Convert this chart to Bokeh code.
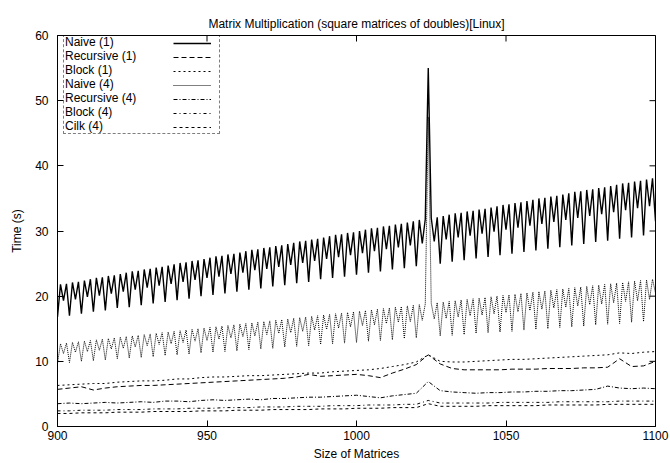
import math
from bokeh.plotting import figure
from bokeh.models import Legend, LegendItem, FixedTicker, Range1d, LinearAxis
from bokeh.embed import file_html
from bokeh.resources import INLINE

# ---------------- data ----------------
sizes = list(range(900, 1101))          # every matrix size 900..1100
coarse_sizes = list(range(900, 1101, 4))  # sampled sizes for the smooth series

x_ticks = [900, 950, 1000, 1050, 1100]
y_ticks = [0, 10, 20, 30, 40, 50, 60]

naive1 = [
    16.8, 21.8, 19.3, 21.9, 17.0, 22.1, 19.5, 22.2, 17.3, 22.4, 19.9, 22.6,
    17.6, 22.8, 20.1, 22.9, 17.8, 23.1, 20.4, 23.2, 18.2, 23.4, 20.7, 23.6,
    18.3, 23.8, 21.0, 23.9, 18.6, 24.1, 21.3, 24.2, 18.9, 24.4, 21.6, 24.5,
    19.1, 24.7, 21.9, 24.9, 19.4, 25.1, 22.2, 25.2, 19.6, 25.4, 22.5, 25.5,
    20.0, 25.7, 22.8, 25.9, 20.2, 26.1, 23.0, 26.2, 20.4, 26.4, 23.4, 26.5,
    20.7, 26.7, 23.6, 26.9, 21.0, 27.1, 24.0, 27.2, 21.2, 27.4, 24.2, 27.5,
    21.5, 27.7, 24.5, 27.8, 21.7, 28.0, 24.8, 28.2, 22.0, 28.4, 25.1, 28.5,
    22.2, 28.7, 25.4, 28.8, 22.6, 29.0, 25.7, 29.2, 22.8, 29.4, 26.0, 29.5,
    23.0, 29.7, 26.3, 29.8, 23.3, 30.0, 26.6, 30.2, 23.6, 30.4, 26.9, 30.5,
    23.8, 30.7, 27.2, 30.8, 24.1, 31.0, 27.5, 31.1, 24.3, 31.3, 27.8, 31.5,
    24.6, 31.7, 28.1, 31.8, 55.0, 32.0, 28.4, 32.1, 25.0, 32.3, 28.7, 32.5,
    25.3, 32.7, 29.0, 32.8, 25.5, 33.0, 29.3, 33.1, 25.8, 33.3, 29.6, 33.4,
    26.0, 33.6, 29.9, 33.8, 26.3, 34.0, 30.2, 34.1, 26.5, 34.3, 30.5, 34.4,
    26.8, 34.6, 30.8, 34.8, 27.0, 35.0, 31.1, 35.1, 27.3, 35.3, 31.4, 35.4,
    27.5, 35.6, 31.7, 35.8, 27.8, 36.0, 32.0, 36.1, 28.0, 36.3, 32.3, 36.4,
    28.3, 36.6, 32.6, 36.7, 28.5, 36.9, 32.9, 37.1, 28.8, 37.3, 33.2, 37.4,
    29.0, 37.6, 33.5, 37.7, 29.3, 37.9, 33.8, 38.1, 31.5,
]

naive4 = [
    9.7, 12.7, 11.2, 12.8, 9.8, 12.9, 11.4, 13.0, 10.0, 13.1, 11.5, 13.2,
    10.1, 13.3, 11.7, 13.4, 10.2, 13.5, 11.9, 13.6, 10.4, 13.7, 12.0, 13.8,
    10.5, 13.9, 12.2, 14.0, 10.6, 14.1, 12.4, 14.2, 10.7, 14.3, 12.6, 14.4,
    10.9, 14.5, 12.7, 14.6, 11.0, 14.7, 12.9, 14.8, 11.1, 14.9, 13.1, 15.0,
    11.3, 15.1, 13.2, 15.2, 11.4, 15.3, 13.4, 15.4, 11.5, 15.5, 13.6, 15.6,
    11.6, 15.7, 13.8, 15.8, 11.8, 15.9, 13.9, 16.0, 11.9, 16.1, 14.1, 16.2,
    12.0, 16.3, 14.3, 16.4, 12.2, 16.5, 14.4, 16.6, 12.3, 16.7, 14.6, 16.8,
    12.4, 16.9, 14.8, 17.0, 12.6, 17.1, 14.9, 17.2, 12.7, 17.3, 15.1, 17.4,
    12.8, 17.5, 15.3, 17.6, 12.9, 17.7, 15.5, 17.8, 13.1, 17.9, 15.6, 18.0,
    13.2, 18.1, 15.8, 18.2, 13.3, 18.3, 16.0, 18.4, 13.5, 18.5, 16.1, 18.6,
    13.6, 18.7, 16.3, 18.8, 47.5, 18.9, 16.5, 19.0, 13.9, 19.1, 16.6, 19.2,
    14.0, 19.3, 16.8, 19.4, 14.1, 19.5, 17.0, 19.6, 14.3, 19.7, 17.1, 19.8,
    14.4, 19.9, 17.3, 20.0, 14.5, 20.1, 17.5, 20.2, 14.6, 20.3, 17.6, 20.4,
    14.8, 20.5, 17.8, 20.6, 14.9, 20.7, 18.0, 20.8, 15.0, 20.9, 18.2, 21.0,
    15.2, 21.1, 18.3, 21.2, 15.3, 21.3, 18.5, 21.4, 15.4, 21.5, 18.7, 21.6,
    15.6, 21.7, 18.8, 21.8, 15.7, 21.9, 19.0, 22.0, 15.8, 22.1, 19.2, 22.2,
    16.0, 22.3, 19.3, 22.4, 16.1, 22.5, 19.5, 22.6, 20.5,
]

recursive1 = [
    5.7, 5.9, 6.1, 5.6, 5.9, 6.1, 6.2, 6.3, 6.3, 6.4, 6.5, 6.6, 6.7,
    6.8, 6.9, 7.0, 7.1, 7.2, 7.3, 7.4, 7.6, 8.0, 7.7, 7.8, 7.9, 8.0,
    7.8, 7.5, 8.2, 8.8, 9.5, 11.0, 9.6, 8.9, 8.7, 8.7, 8.7, 8.7, 8.8,
    8.8, 8.8, 8.9, 8.9, 8.9, 9.0, 9.0, 9.1, 10.4, 9.2, 9.3, 10.0,
]

block1 = [
    6.3, 6.4, 6.5, 6.6, 6.6, 6.8, 6.9, 7.0, 7.0, 7.1, 7.3, 7.3, 7.5,
    7.6, 7.6, 7.7, 7.8, 7.8, 7.9, 8.0, 8.1, 8.2, 8.2, 8.4, 8.5, 8.6,
    8.7, 8.9, 9.2, 9.5, 9.9, 11.0, 10.0, 9.9, 9.9, 10.0, 10.1, 10.2, 10.3,
    10.3, 10.4, 10.5, 10.6, 10.7, 10.8, 10.9, 11.0, 11.3, 11.2, 11.4, 11.5,
]

recursive4 = [
    3.5, 3.6, 3.5, 3.6, 3.7, 3.6, 3.7, 3.8, 3.7, 3.9, 3.9, 3.8, 4.0,
    4.1, 4.0, 4.1, 4.2, 4.1, 4.3, 4.3, 4.4, 4.5, 4.5, 4.6, 4.7, 4.8,
    4.6, 4.4, 4.7, 4.9, 5.1, 6.9, 5.5, 5.3, 5.2, 5.1, 5.2, 5.2, 5.3,
    5.3, 5.4, 5.4, 5.5, 5.5, 5.6, 5.7, 6.2, 5.9, 5.8, 5.9, 5.8,
]

block4 = [
    2.4, 2.4, 2.5, 2.5, 2.5, 2.6, 2.6, 2.6, 2.7, 2.7, 2.7, 2.8, 2.8,
    2.8, 2.9, 2.9, 2.9, 3.0, 3.0, 3.0, 3.1, 3.1, 3.1, 3.2, 3.2, 3.2,
    3.3, 3.3, 3.3, 3.4, 3.4, 4.0, 3.6, 3.6, 3.6, 3.6, 3.6, 3.7, 3.7,
    3.7, 3.7, 3.7, 3.8, 3.8, 3.8, 3.8, 3.8, 3.9, 3.9, 3.9, 3.9,
]

cilk4 = [
    2.0, 2.0, 2.1, 2.1, 2.1, 2.2, 2.2, 2.2, 2.3, 2.3, 2.3, 2.3, 2.4,
    2.4, 2.4, 2.5, 2.5, 2.5, 2.6, 2.6, 2.6, 2.6, 2.7, 2.7, 2.7, 2.8,
    2.8, 2.8, 2.9, 2.9, 2.9, 3.5, 3.1, 3.1, 3.1, 3.1, 3.2, 3.2, 3.2,
    3.2, 3.2, 3.3, 3.3, 3.3, 3.3, 3.3, 3.4, 3.4, 3.4, 3.4, 3.4,
]

labels = ["Naive (1)", "Recursive (1)", "Block (1)", "Naive (4)",
          "Recursive (4)", "Block (4)", "Cilk (4)"]

FONT = "Liberation Sans"

# ---------------- figure ----------------
p = figure(width=670, height=463, output_backend="svg", toolbar_location=None,
           x_range=Range1d(900, 1100), y_range=Range1d(0, 60),
           min_border_left=57, min_border_right=15,
           min_border_top=35, min_border_bottom=36,
           title="Matrix Multiplication (square matrices of doubles)[Linux]")

p.title.text_font = FONT
p.title.text_font_size = "12px"
p.title.text_font_style = "normal"
p.title.align = "center"
p.title.text_color = "black"

p.xgrid.visible = False
p.ygrid.visible = False
p.outline_line_color = "black"
p.outline_line_alpha = 1
p.outline_line_width = 1
p.background_fill_color = "white"
p.border_fill_color = "white"

x_axis = p.below[0]
y_axis = p.left[0]
for ax, ticks in ((x_axis, x_ticks), (y_axis, y_ticks)):
    ax.ticker = FixedTicker(ticks=ticks)
    ax.major_tick_in = 6
    ax.major_tick_out = 0
    ax.minor_tick_line_color = None
    ax.axis_line_color = "black"
    ax.major_tick_line_color = "black"
    ax.major_label_text_font = FONT
    ax.major_label_text_font_size = "12px"
    ax.major_label_text_color = "black"
    ax.axis_label_text_font = FONT
    ax.axis_label_text_font_size = "12px"
    ax.axis_label_text_font_style = "normal"
    ax.axis_label_text_color = "black"

x_axis.axis_label = "Size of Matrices"
y_axis.axis_label = "Time (s)"
x_axis.major_label_standoff = 4
x_axis.axis_label_standoff = 4
y_axis.major_label_standoff = 9
y_axis.axis_label_standoff = 8

# empty spacer axis above the frame (no ticks, no labels) lifts the title
spacer = LinearAxis(ticker=FixedTicker(ticks=[]), axis_line_color=None,
                    major_tick_in=0, major_tick_out=8, minor_tick_in=0,
                    minor_tick_out=0, major_label_standoff=0,
                    minor_tick_line_color=None, major_tick_line_color=None)
p.add_layout(spacer, "above")

# mirrored inward ticks on the top and right borders (half of each dash is
# clipped by the frame, leaving a 6px inward tick)
p.scatter(x_ticks, [60] * len(x_ticks), marker="dash", angle=math.pi / 2,
          size=12, line_color="black", line_width=1)
p.scatter([1100] * len(y_ticks), y_ticks, marker="dash",
          size=12, line_color="black", line_width=1)

# ---------------- series ----------------
r_naive1 = p.line(sizes, naive1, line_color="black", line_width=1.4)
r_rec1 = p.line(coarse_sizes, recursive1, line_color="black", line_width=1, line_dash="5 3")
r_block1 = p.line(coarse_sizes, block1, line_color="black", line_width=1, line_dash="2 3")
r_naive4 = p.line(sizes, naive4, line_color="black", line_width=1, line_dash="1 1")
r_rec4 = p.line(coarse_sizes, recursive4, line_color="black", line_width=1, line_dash="4 2 1 2")
r_block4 = p.line(coarse_sizes, block4, line_color="black", line_width=1, line_dash="3 3 1 3")
r_cilk4 = p.line(coarse_sizes, cilk4, line_color="black", line_width=1, line_dash="3 3")

renderers = [r_naive1, r_rec1, r_block1, r_naive4, r_rec4, r_block4, r_cilk4]

# legend: labels on the left (in a dotted box), line samples on the right
ROW = 14
label_legend = Legend(
    items=[LegendItem(label=lab, renderers=[r]) for lab, r in zip(labels, renderers)],
    location=(6, 292), glyph_width=0, glyph_height=ROW, label_height=ROW,
    label_width=154, label_standoff=1, spacing=0, padding=0, margin=0,
    label_text_font=FONT, label_text_font_size="12px", label_text_color="black",
    border_line_color="black", border_line_dash="1 2", border_line_width=1,
    background_fill_alpha=0,
)
glyph_legend = Legend(
    items=[LegendItem(label="", renderers=[r]) for r in renderers],
    location=(116, 292), glyph_width=38, glyph_height=ROW, label_height=ROW,
    label_width=0, label_standoff=0, spacing=0, padding=0, margin=0,
    label_text_font=FONT, label_text_font_size="12px",
    border_line_color=None, background_fill_alpha=0,
)
p.add_layout(label_legend, "center")
p.add_layout(glyph_legend, "center")

open("out.html", "w").write(file_html(p, INLINE))
